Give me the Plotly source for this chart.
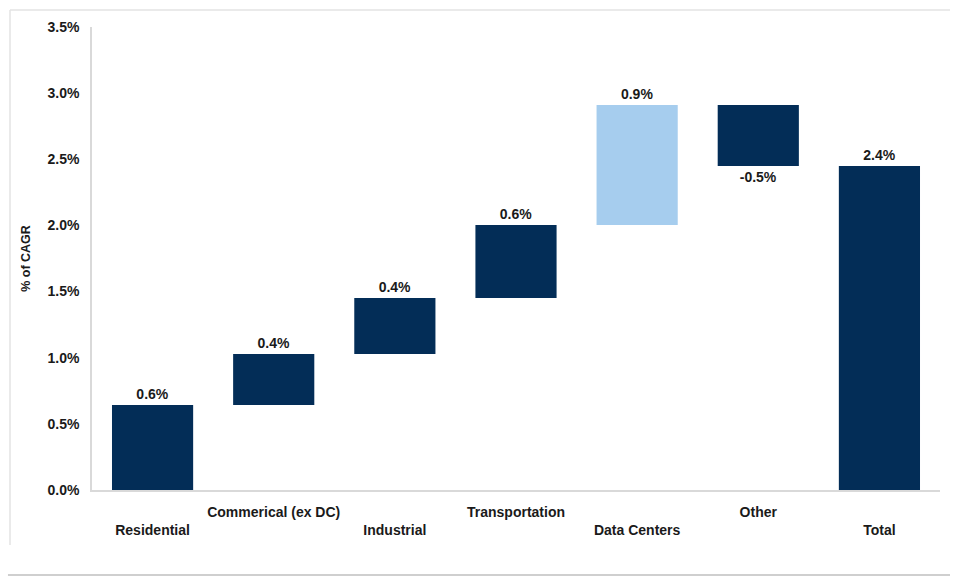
import plotly.graph_objects as go

categories = ["Residential", "Commerical (ex DC)", "Industrial", "Transportation",
              "Data Centers", "Other", "Total"]
changes = [0.643, 0.385, 0.423, 0.552, 0.907, -0.461]  # % CAGR contributions
bar_colors = ["#032D57", "#032D57", "#032D57", "#032D57", "#A6CDEE", "#032D57", "#032D57"]
y_ticks = [0.0, 0.5, 1.0, 1.5, 2.0, 2.5, 3.0, 3.5]

# build bases / heights for the waterfall from the change values
bases, heights = [], []
running = 0.0
for c in changes:
    bases.append(running)
    heights.append(c)
    running += c
bases.append(0.0)
heights.append(running)

labels = [f"{h:.1f}%" for h in heights]

# staggered category labels
ticktext = [("<br>" + c) if i % 2 == 0 else c for i, c in enumerate(categories)]

FONT = "Liberation Sans, Arial, sans-serif"

fig = go.Figure()
fig.add_trace(go.Bar(
    x=categories, y=heights, base=bases,
    marker=dict(color=bar_colors, line=dict(width=0)),
    width=0.67,
    text=labels, textposition="outside",
    textfont=dict(family=FONT, size=14, color="#1a1a1a", weight="bold"),
    cliponaxis=False,
    hoverinfo="skip",
))

fig.update_layout(
    width=960, height=587,
    margin=dict(l=92, r=20, t=27, b=97),
    plot_bgcolor="white", paper_bgcolor="white",
    showlegend=False,
    font=dict(family=FONT, size=13, color="#1a1a1a"),
    xaxis=dict(
        tickmode="array", tickvals=categories, ticktext=ticktext,
        showline=True, linecolor="#d9d9d9", linewidth=1.5,
        showgrid=False, ticks="", ticklabelstandoff=8,
        tickfont=dict(family=FONT, size=14, color="#1a1a1a", weight="bold"),
        range=[-0.5, 6.5],
    ),
    yaxis=dict(
        range=[0, 3.5], tickvals=y_ticks,
        ticktext=[f"{v:.1f}%" for v in y_ticks],
        showline=True, linecolor="#d9d9d9", linewidth=1.5,
        showgrid=False, zeroline=False, ticks="", ticklabelstandoff=8,
        tickfont=dict(family=FONT, size=14, color="#1a1a1a", weight="bold"),
        title=dict(text="% of CAGR", standoff=14,
                   font=dict(family=FONT, size=12.5, color="#1a1a1a", weight="bold")),
        automargin=False,
    ),
)

# frame lines (paper coordinates relative to plot area)
frame = dict(type="line", xref="paper", yref="paper", line=dict(color="#e3e3e3", width=1.5))
fig.add_shape(**frame, x0=-0.0967, x1=1.0118, y0=1.0367, y1=1.0367)
fig.add_shape(**frame, x0=-0.0967, x1=-0.0967, y0=1.0367, y1=-0.1188)
fig.add_shape(type="line", xref="paper", yref="paper", line=dict(color="#cfcfcf", width=2),
              x0=-0.0991, x1=1.0118, y0=-0.1836, y1=-0.1836)

fig.write_html("out.html")
